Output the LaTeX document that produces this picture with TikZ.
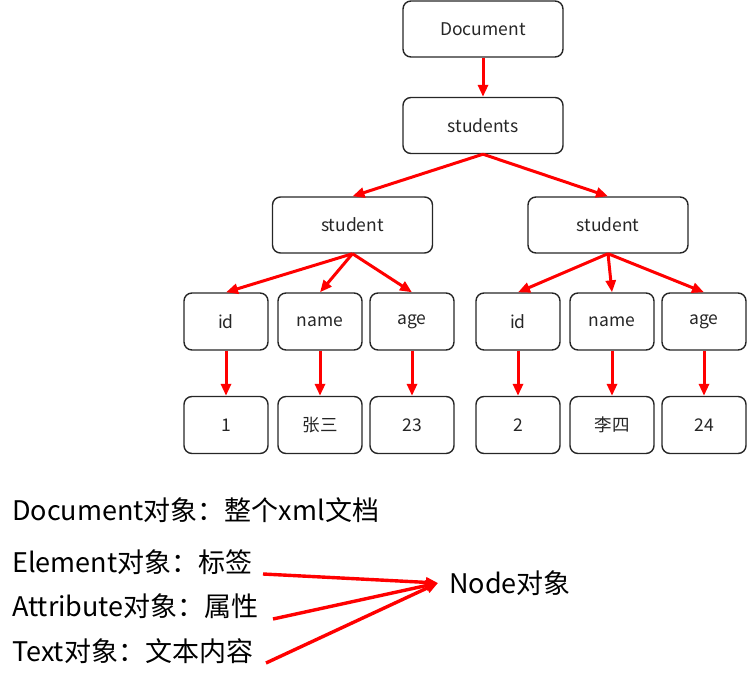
\documentclass[tikz,border=0pt]{standalone}
\usepackage{fontspec}
\setmainfont{Noto Sans CJK SC}
\usetikzlibrary{arrows.meta}
\begin{document}
\begin{tikzpicture}[x=1pt,y=-1pt,
  box/.style={draw=black!85,line width=1.4pt,rounded corners=8pt,align=center,font=\fontsize{17.5}{20}\selectfont,text=black!85},
  wide/.style={box,minimum width=160pt,minimum height=56pt},
  leaf/.style={box,minimum width=84pt,minimum height=57pt},
  link/.style={draw=red,line width=3pt,-{Triangle[length=12pt,width=10pt]}},
  big/.style={font=\fontsize{27}{30}\selectfont,anchor=west,inner sep=0pt,text=black}
]
\useasboundingbox (0,0) rectangle (747,674);
\node[wide] (doc) at (483,29) {Document};
\node[wide] (sts) at (483,125.5) {students};
\node[wide] (s1) at (352.5,225) {student};
\node[wide] (s2) at (608,225) {student};
\node[leaf] (id1) at (226,321.5) {id};
\node[leaf] (nm1) at (320,321.5) {name};
\node[leaf] (ag1) at (412,321.5) {age};
\node[leaf] (id2) at (518,321.5) {id};
\node[leaf] (nm2) at (612,321.5) {name};
\node[leaf] (ag2) at (704,321.5) {age};
\node[leaf] (v1) at (226,425) {1};
\node[leaf] (v2) at (320,425) {张三};
\node[leaf] (v3) at (412,425) {23};
\node[leaf] (v4) at (518,425) {2};
\node[leaf] (v5) at (612,425) {李四};
\node[leaf] (v6) at (704,425) {24};
\draw[link] (doc.south) -- (sts.north);
\draw[link] (sts.south) -- (s1.north);
\draw[link] (sts.south) -- (s2.north);
\draw[link] (s1.south) -- (id1.north);
\draw[link] (s1.south) -- (nm1.north);
\draw[link] (s1.south) -- (ag1.north);
\draw[link] (s2.south) -- (id2.north);
\draw[link] (s2.south) -- (nm2.north);
\draw[link] (s2.south) -- (ag2.north);
\draw[link] (id1.south) -- (v1.north);
\draw[link] (nm1.south) -- (v2.north);
\draw[link] (ag1.south) -- (v3.north);
\draw[link] (id2.south) -- (v4.north);
\draw[link] (nm2.south) -- (v5.north);
\draw[link] (ag2.south) -- (v6.north);
\node[big] (t1) at (12,510) {Document对象：整个xml文档};
\node[big] (t2) at (12,562) {Element对象：标签};
\node[big] (t3) at (12,606) {Attribute对象：属性};
\node[big] (t4) at (12,651) {Text对象：文本内容};
\node[big] (nd) at (449,583) {Node对象};
\coordinate (tip) at (438,583);
\coordinate (a1) at (263,574);
\coordinate (a2) at (273,619);
\coordinate (a3) at (266,663);
\draw[link,line width=3.4pt] (a1) -- (tip);
\draw[link,line width=3.4pt] (a2) -- (tip);
\draw[link,line width=3.4pt] (a3) -- (tip);
\end{tikzpicture}
\end{document}
